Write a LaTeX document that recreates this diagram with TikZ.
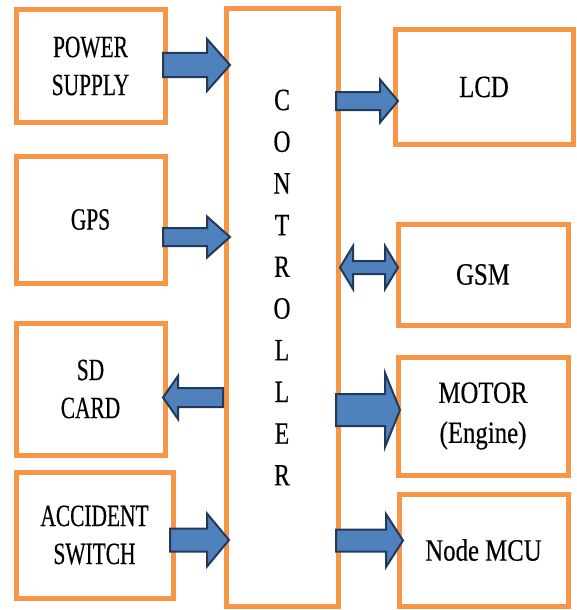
\documentclass[tikz,border=0pt]{standalone}
\usepackage{fontspec}
\IfFontExistsTF{LiberationSerif-Regular.ttf}
  {\def\myserif{LiberationSerif-Regular.ttf}}
  {\def\myserif{lmroman10-regular.otf}}
\newfontfamily\lfont{\myserif}[FakeStretch=0.69,FakeBold=0.4]
\newfontfamily\rfont{\myserif}[FakeStretch=0.8,FakeBold=0.4]
\newfontfamily\cfont{\myserif}[FakeStretch=0.76,FakeBold=0.4]
\usetikzlibrary{calc}
\definecolor{boxorange}{HTML}{F79646}
\definecolor{arrfill}{HTML}{4F81BD}
\definecolor{arrline}{HTML}{22395C}
\begin{document}
\begin{tikzpicture}[x=1pt,y=-1pt,
  box/.style={draw=boxorange, line width=5pt, fill=white, inner sep=0pt, align=center},
  lbox/.style={box, font=\lfont\fontsize{31}{38}\selectfont},
  rbox/.style={box, font=\rfont\fontsize{31}{40}\selectfont},
  ctext/.style={align=center, inner sep=0pt, font=\cfont\fontsize{31}{41.7}\selectfont},
  barrow/.style n args={3}{draw=arrline, fill=arrfill, line width=2pt, line join=miter,
    to path={let \p1=(\tikztostart), \p2=(\tikztotarget), \n1={#1}, \n2={#2}, \n3={(#3)*sign(\x2-\x1)} in
      (\x1,\y1+\n1) -- (\x2-\n3,\y1+\n1) -- (\x2-\n3,\y1+\n2) -- (\x2,\y1)
      -- (\x2-\n3,\y1-\n2) -- (\x2-\n3,\y1-\n1) -- (\x1,\y1-\n1) -- cycle}},
  dbarrow/.style n args={3}{draw=arrline, fill=arrfill, line width=2pt, line join=miter,
    to path={let \p1=(\tikztostart), \p2=(\tikztotarget), \n1={#1}, \n2={#2}, \n3={#3} in
      (\x1,\y1) -- (\x1+\n3,\y1+\n2) -- (\x1+\n3,\y1+\n1) -- (\x2-\n3,\y1+\n1) -- (\x2-\n3,\y1+\n2)
      -- (\x2,\y1) -- (\x2-\n3,\y1-\n2) -- (\x2-\n3,\y1-\n1) -- (\x1+\n3,\y1-\n1) -- (\x1+\n3,\y1-\n2) -- cycle}}
]
\useasboundingbox[fill=white] (0,0) rectangle (576,610);

% left column
\node[lbox, minimum width=149pt, minimum height=112pt] (ps) at (90.5,66) {POWER\\SUPPLY};
\node[lbox, minimum width=149pt, minimum height=127pt] (gps) at (90.5,219.5) {GPS};
\node[lbox, minimum width=149pt, minimum height=132pt] (sd) at (90.5,389) {SD\\CARD};
\node[lbox, minimum width=157pt, minimum height=126pt] (acc) at (94.5,535) {ACCIDENT\\SWITCH};

% controller
\node[box, minimum width=112pt, minimum height=597pt] (ctrl) at (282,307.5) {};
\node[ctext] (ct) at (282,287.5) {C\\O\\N\\T\\R\\O\\L\\L\\E\\R};

% right column
\node[rbox, minimum width=178pt, minimum height=114pt] (lcd) at (484,87) {LCD};
\node[rbox, minimum width=170pt, minimum height=101pt] (gsm) at (483,274.5) {GSM};
\node[rbox, minimum width=170pt, minimum height=118pt] (mot) at (483,416) {MOTOR\\(Engine)};
\node[rbox, minimum width=169pt, minimum height=112pt] (mcu) at (483.5,550) {Node MCU};

% connector end points
\coordinate (a1s) at (163,65);   \coordinate (a1e) at (230,65);
\coordinate (a2s) at (163,237);  \coordinate (a2e) at (230,237);
\coordinate (a3s) at (223,397.5);\coordinate (a3e) at (163,397.5);
\coordinate (a4s) at (170,540);  \coordinate (a4e) at (229,540);
\coordinate (a5s) at (336,101);  \coordinate (a5e) at (398,101);
\coordinate (a6s) at (340,267.5);\coordinate (a6e) at (398,267.5);
\coordinate (a7s) at (336,410);  \coordinate (a7e) at (400,410);
\coordinate (a8s) at (336,540.5);\coordinate (a8e) at (403,540.5);

% block arrows
\draw[barrow={12}{26}{23}] (a1s) to (a1e);
\draw[barrow={9}{20.5}{23}] (a2s) to (a2e);
\draw[barrow={9.5}{21.5}{15}] (a3s) to (a3e);
\draw[barrow={11.5}{26.5}{22}] (a4s) to (a4e);
\draw[barrow={9}{21.5}{18}] (a5s) to (a5e);
\draw[dbarrow={6.5}{21.5}{13}] (a6s) to (a6e);
\draw[barrow={16}{37}{15}] (a7s) to (a7e);
\draw[barrow={11}{26.5}{17}] (a8s) to (a8e);
\end{tikzpicture}
\end{document}
